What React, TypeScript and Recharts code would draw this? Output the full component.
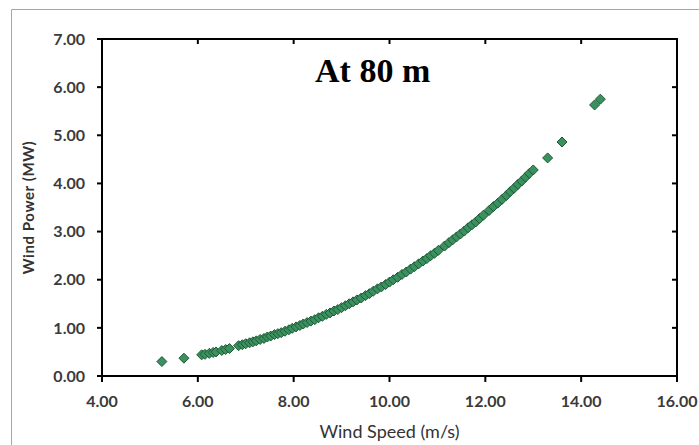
import { ScatterChart, Scatter, XAxis, YAxis } from 'recharts';

// wind speed (m/s) vs wind power (MW)
const windSpeed = [
  5.25, 5.71, 6.08, 6.15, 6.24, 6.32, 6.38, 6.5, 6.58, 6.66,
  6.85, 6.93, 7.0, 7.08, 7.15, 7.22, 7.3, 7.38, 7.45, 7.52,
  7.6, 7.67, 7.74, 7.82, 7.9, 7.97, 8.05, 8.13, 8.2, 8.28,
  8.36, 8.44, 8.52, 8.6, 8.68, 8.76, 8.84, 8.92, 9.0, 9.08,
  9.16, 9.24, 9.32, 9.41, 9.5, 9.58, 9.66, 9.75, 9.83, 9.92,
  10.0, 10.08, 10.17, 10.26, 10.35, 10.44, 10.52, 10.61, 10.7, 10.78,
  10.86, 10.94, 11.02, 11.15, 11.24, 11.32, 11.4, 11.48, 11.56, 11.64,
  11.72, 11.8, 11.88, 11.96, 12.08, 12.17, 12.26, 12.35, 12.44, 12.52,
  12.6, 12.68, 12.76, 12.84, 12.92, 13.0, 13.3, 13.6, 14.28, 14.4,
];

const windPower = [
  0.3, 0.37, 0.44, 0.45, 0.47, 0.49, 0.5, 0.53, 0.55, 0.57,
  0.63, 0.65, 0.67, 0.69, 0.71, 0.73, 0.76, 0.78, 0.81, 0.83,
  0.86, 0.88, 0.9, 0.93, 0.96, 0.99, 1.02, 1.05, 1.08, 1.11,
  1.14, 1.17, 1.21, 1.24, 1.28, 1.31, 1.35, 1.38, 1.42, 1.46,
  1.5, 1.54, 1.58, 1.62, 1.67, 1.71, 1.76, 1.81, 1.85, 1.9,
  1.95, 2.0, 2.05, 2.11, 2.16, 2.22, 2.27, 2.33, 2.39, 2.44,
  2.5, 2.55, 2.61, 2.7, 2.77, 2.83, 2.89, 2.95, 3.01, 3.08,
  3.14, 3.2, 3.27, 3.34, 3.44, 3.52, 3.59, 3.67, 3.75, 3.83,
  3.9, 3.98, 4.05, 4.13, 4.21, 4.28, 4.53, 4.86, 5.63, 5.75,
];

const xTicks = [4, 6, 8, 10, 12, 14, 16];
const yTicks = [0, 1, 2, 3, 4, 5, 6, 7];

const X_MIN = 4;
const X_MAX = 16;
const Y_MIN = 0;
const Y_MAX = 7;

const points = windSpeed.map((speed, i) => ({ speed, power: windPower[i] }));

const W = 699;
const H = 445;
const margin = { top: 39, right: 22, left: 42, bottom: 0 };
const Y_AXIS_W = 60;
const X_AXIS_H = 69;

// plot box, used only for the decorative top/right frame
const plotLeft = margin.left + Y_AXIS_W;
const plotRight = W - margin.right;
const plotTop = margin.top;
const plotBottom = H - margin.bottom - X_AXIS_H;
const frameX = (t: number) => plotLeft + ((t - X_MIN) / (X_MAX - X_MIN)) * (plotRight - plotLeft);
const frameY = (t: number) => plotBottom - ((t - Y_MIN) / (Y_MAX - Y_MIN)) * (plotBottom - plotTop);

const tickStyle = { fontFamily: 'Lato', fontSize: 16, fontWeight: 700, fill: '#3a3a3a' };
const fmt = (v: number) => v.toFixed(2);
const axisStroke = { stroke: '#000', strokeWidth: 2 };

function Diamond(props: any) {
  const { cx, cy } = props;
  if (cx == null || cy == null) return <g />;
  const r = 5;
  return (
    <polygon
      points={`${cx},${cy - r} ${cx + r},${cy} ${cx},${cy + r} ${cx - r},${cy}`}
      fill="#3b9060"
      stroke="#1d5a34"
      strokeWidth={1}
    />
  );
}

function YLabel({ viewBox }: any) {
  const cy = viewBox.y + viewBox.height / 2;
  return (
    <text
      x={30}
      y={cy}
      transform={`rotate(-90, 30, ${cy})`}
      textAnchor="middle"
      dominantBaseline="middle"
      fontFamily="Lato"
      fontSize={15}
      fontWeight={700}
      letterSpacing={0.6}
      fill="#333"
    >
      Wind Power (MW)
    </text>
  );
}

function XLabel({ viewBox }: any) {
  return (
    <text
      x={viewBox.x + viewBox.width / 2}
      y={438}
      textAnchor="middle"
      fontFamily="Lato"
      fontSize={18}
      fill="#333"
    >
      Wind Speed (m/s)
    </text>
  );
}

export default function App() {
  return (
    <div style={{ position: 'absolute', left: 0, top: 0, width: W, height: H, overflow: 'hidden', background: '#fff' }}>
      <ScatterChart width={W} height={H} margin={margin}>
        <XAxis
          type="number"
          dataKey="speed"
          domain={[X_MIN, X_MAX]}
          ticks={xTicks}
          tickFormatter={fmt}
          height={X_AXIS_H}
          tick={tickStyle}
          tickSize={6}
          tickMargin={14}
          axisLine={axisStroke}
          tickLine={axisStroke}
          label={<XLabel />}
        />
        <YAxis
          type="number"
          dataKey="power"
          domain={[Y_MIN, Y_MAX]}
          ticks={yTicks}
          tickFormatter={fmt}
          width={Y_AXIS_W}
          tick={tickStyle}
          tickSize={5}
          tickMargin={12}
          axisLine={axisStroke}
          tickLine={axisStroke}
          label={<YLabel />}
        />
        <Scatter data={points} fill="#3b9060" shape={Diamond} isAnimationActive={false} />
      </ScatterChart>
      <svg width={W} height={H} style={{ position: 'absolute', left: 0, top: 0, pointerEvents: 'none' }}>
        {/* outer chart-area border, cut off on the right and bottom like the source */}
        <path d="M11.5,460 L11.5,9.5 L710,9.5" fill="none" stroke="#a6a6a6" strokeWidth={1} />
        {/* plot box with inward ticks on top and right */}
        <rect
          x={plotLeft}
          y={plotTop}
          width={plotRight - plotLeft}
          height={plotBottom - plotTop}
          fill="none"
          stroke="#000"
          strokeWidth={2}
        />
        {xTicks.slice(1, -1).map((t) => (
          <line key={`tx${t}`} x1={frameX(t)} x2={frameX(t)} y1={plotTop} y2={plotTop + 5} stroke="#000" strokeWidth={2} />
        ))}
        {yTicks.slice(1, -1).map((t) => (
          <line key={`ty${t}`} x1={plotRight} x2={plotRight - 5} y1={frameY(t)} y2={frameY(t)} stroke="#000" strokeWidth={2} />
        ))}
        <text x={315} y={82} fontFamily="Liberation Serif" fontWeight={700} fontSize={34} fill="#000">
          At 80 m
        </text>
      </svg>
    </div>
  );
}
